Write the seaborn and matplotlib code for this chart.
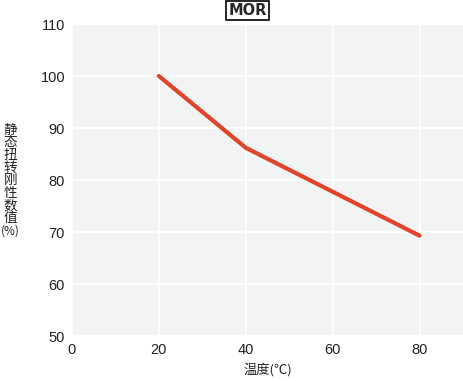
import matplotlib
matplotlib.use("Agg")
import matplotlib.pyplot as plt
import seaborn as sns
import pandas as pd

temperature = [20, 40, 80]
stiffness = [100, 86.2, 69.3]
x_ticks = [0, 20, 40, 60, 80]
y_ticks = [50, 60, 70, 80, 90, 100, 110]
y_label_chars = ["静", "态", "扭", "转", "刚", "性", "数", "值", "(%)"]

sns.set_theme(style="darkgrid")
plt.rcParams['font.family'] = ['Noto Sans CJK SC', 'DejaVu Sans']

df = pd.DataFrame({"t": temperature, "v": stiffness})

W, H = 463, 381
fig = plt.figure(figsize=(W / 100, H / 100), dpi=100)
ax = fig.add_axes([0.1555, 0.118, 0.8445, 0.819])
ax.set_facecolor("#f2f3f3")
sns.lineplot(data=df, x="t", y="v", ax=ax, color="#e0442a", linewidth=3)
ax.set_xlim(0, 90)
ax.set_ylim(50, 110)
ax.set_xticks(x_ticks)
ax.set_yticks(y_ticks)
ax.grid(True, color="white", linewidth=1.2)
for s in ax.spines.values():
    s.set_visible(False)
ax.tick_params(axis="both", length=0, labelsize=10.5, colors="#222222", pad=5)
for lbl in ax.get_xticklabels() + ax.get_yticklabels():
    lbl.set_family(['Liberation Sans'])
ax.set_xlabel("温度(℃)", fontsize=9.5, color="#222222", labelpad=4)
ax.set_ylabel("")
# vertical stacked y label
for i, ch in enumerate(y_label_chars):
    yc = 129.5 + 12.7 * i
    fig.text(10.5 / W, 1 - yc / H, ch, ha="center", va="center",
             fontsize=9.8 if i < 8 else 8.5, color="#222222")
fig.text(0.535, 0.972, "MOR", ha="center", va="center", fontsize=10.5, fontweight="bold",
         family=['DejaVu Sans'],
         bbox=dict(facecolor="white", edgecolor="black", linewidth=1.2, boxstyle="square,pad=0.15"))
fig.savefig("out.png", dpi=100)
